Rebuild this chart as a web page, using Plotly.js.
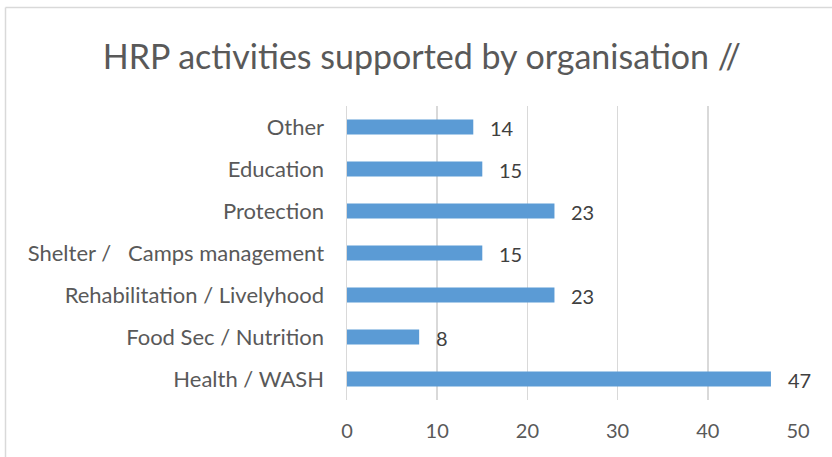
<!DOCTYPE html>
<html>
<head>
<meta charset="utf-8">
<script src="https://cdn.plot.ly/plotly-3.0.1.min.js"></script>
<style>html,body{margin:0;padding:0;background:#fff;}#chart{width:832px;height:457px;}</style>
</head>
<body>
<div id="chart"></div>
<script>
var categories = ["Health / WASH", "Food Sec / Nutrition", "Rehabilitation / Livelyhood", "Shelter /\u00a0\u00a0 Camps management", "Protection", "Education", "Other"];
var values = [47, 8, 23, 15, 23, 15, 14];
var tickValues = [0, 10, 20, 30, 40, 50];

var W = 832, H = 457;
var mL = 347, mR = 34, mT = 106, mB = 57;
var pw = W - mL - mR, ph = H - mT - mB;
function px(x){ return (x - mL) / pw; }
function py(y){ return (H - mB - y) / ph; }

var trace = {
  type: 'bar',
  orientation: 'h',
  y: categories,
  x: values,
  marker: {color: '#5B9BD5'},
  width: 0.36,
  hoverinfo: 'none'
};

var labels = values.map(function(v, i){
  return {
    x: v, y: categories[i], xref: 'x', yref: 'y',
    text: String(v), showarrow: false,
    xanchor: 'left', yanchor: 'middle', xshift: 15, yshift: -1,
    font: {family: 'Lato, sans-serif', size: 20, color: '#404040'}
  };
});

var layout = {
  width: W, height: H,
  margin: {l: mL, r: mR, t: mT, b: mB, pad: 0},
  paper_bgcolor: '#ffffff',
  plot_bgcolor: '#ffffff',
  showlegend: false,
  font: {family: 'Lato, sans-serif', color: '#595959'},
  title: {
    text: 'HRP activities supported by organisation //',
    font: {family: 'Lato, sans-serif', size: 34, color: '#595959'},
    x: 0.507, xanchor: 'center', xref: 'container',
    y: 1 - 57 / H, yanchor: 'middle', yref: 'container'
  },
  xaxis: {
    range: [0, 50],
    tickvals: tickValues,
    ticktext: tickValues.map(String),
    showgrid: true, gridcolor: '#d9d9d9', gridwidth: 1.5,
    zeroline: false, showline: false, ticks: '',
    tickfont: {family: 'Lato, sans-serif', size: 20, color: '#595959'},
    ticklabelstandoff: 17,
    fixedrange: true
  },
  yaxis: {
    type: 'category',
    categoryorder: 'array', categoryarray: categories,
    showgrid: false, zeroline: false,
    showline: true, linecolor: '#d9d9d9', linewidth: 1.5,
    ticks: '',
    tickfont: {family: 'Lato, sans-serif', size: 22, color: '#595959'},
    ticklabelstandoff: 17,
    fixedrange: true
  },
  annotations: labels,
  shapes: [
    {type: 'line', xref: 'paper', yref: 'paper', x0: px(5.5), x1: px(832), y0: py(7.5), y1: py(7.5), line: {color: '#d9d9d9', width: 1.5}},
    {type: 'line', xref: 'paper', yref: 'paper', x0: px(5.5), x1: px(5.5), y0: py(7.5), y1: py(457), line: {color: '#d9d9d9', width: 1.5}}
  ]
};

Plotly.newPlot('chart', [trace], layout, {displayModeBar: false, staticPlot: true});
</script>
</body>
</html>
